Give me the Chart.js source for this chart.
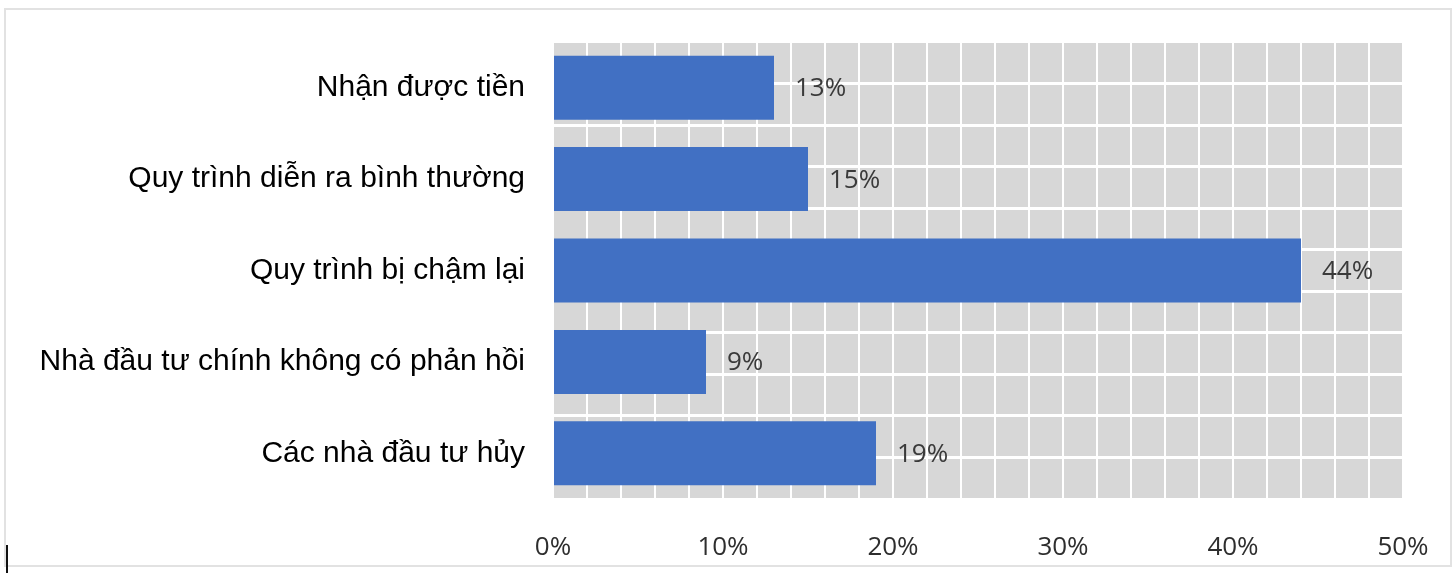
<!DOCTYPE html>
<html>
<head>
<meta charset="utf-8">
<script src="https://cdn.jsdelivr.net/npm/chart.js@4/dist/chart.umd.min.js"></script>
<style>
    body { margin: 0; background: #fff; }
    #wrap { position: relative; width: 1455px; height: 573px; }
    #frame { position: absolute; left: 4px; top: 8px; width: 1444px; height: 555px; border: 2px solid #e2e2e2; }
    #mark { position: absolute; left: 6px; top: 545px; width: 2px; height: 28px; background: #111; }
    #myChart { position: absolute; left: 0; top: 0; }
</style>
</head>
<body>
<div id="wrap">
    <div id="frame"></div>
    <div id="mark"></div>
    <canvas id="myChart" width="1455" height="573"></canvas>
</div>
<script>
const labels = ['Nhận được tiền', 'Quy trình diễn ra bình thường', 'Quy trình bị chậm lại',
    'Nhà đầu tư chính không có phản hồi', 'Các nhà đầu tư hủy'];
const values = [13, 15, 44, 9, 19];
const xMax = 50;
const xStep = 2;

const plotBackground = {
    id: 'plotBackground',
    beforeDraw(chart) {
        const a = chart.chartArea;
        const c = chart.ctx;
        c.save();
        c.fillStyle = '#d7d7d7';
        c.fillRect(a.left, a.top, a.right - a.left, a.bottom - a.top);
        c.restore();
    }
};

const valueLabels = {
    id: 'valueLabels',
    afterDatasetsDraw(chart) {
        const c = chart.ctx;
        const meta = chart.getDatasetMeta(0);
        c.save();
        c.font = '26px "Open Sans"';
        c.fillStyle = '#3a3a3a';
        c.textBaseline = 'middle';
        meta.data.forEach((bar, i) => {
            c.fillText(values[i] + '%', bar.x + 21, bar.y + 1);
        });
        c.restore();
    }
};

const ctx = document.getElementById('myChart');

new Chart(ctx, {
    type: 'bar',
    data: {
        labels  : labels,
        datasets: [
            {
                data              : values,
                backgroundColor   : '#4170c3',
                barPercentage     : 0.7,
                categoryPercentage: 1
            }
        ]
    },
    options: {
        indexAxis : 'y',
        responsive: false,
        animation : false,
        layout    : {padding: {left: 10, right: 52, top: 42, bottom: 0}},
        plugins   : {legend: {display: false}, tooltip: {enabled: false}},
        scales    : {
            x : {
                min   : 0,
                max   : xMax,
                border: {display: false},
                grid  : {color: '#ffffff', lineWidth: 2, drawTicks: false},
                ticks : {
                    stepSize   : xStep,
                    autoSkip   : false,
                    maxRotation: 0,
                    padding    : 33,
                    color      : '#2e2e2e',
                    font       : {family: 'Open Sans', size: 26},
                    callback   : v => (Math.round(v) % 10 === 0 ? Math.round(v) + '%' : '')
                },
                afterFit(scale) {
                    scale.height = 74;
                    scale.paddingLeft = 0;
                    scale.paddingRight = 0;
                }
            },
            y : {
                border: {display: false},
                grid  : {display: false},
                ticks : {
                    padding: 20,
                    color  : '#000000',
                    font   : {family: 'Liberation Sans', size: 30}
                },
                afterFit(scale) {
                    scale.width = 543;
                    scale.paddingTop = 0;
                    scale.paddingBottom = 0;
                }
            },
            yg: {
                type    : 'linear',
                position: 'left',
                min     : 0,
                max     : labels.length * 2,
                border  : {display: false},
                grid    : {color: '#ffffff', lineWidth: 3, drawTicks: false},
                ticks   : {display: false, stepSize: 1},
                afterFit(scale) {
                    scale.width = 0;
                    scale.paddingTop = 0;
                    scale.paddingBottom = 0;
                }
            }
        }
    },
    plugins: [plotBackground, valueLabels]
});
</script>
</body>
</html>
